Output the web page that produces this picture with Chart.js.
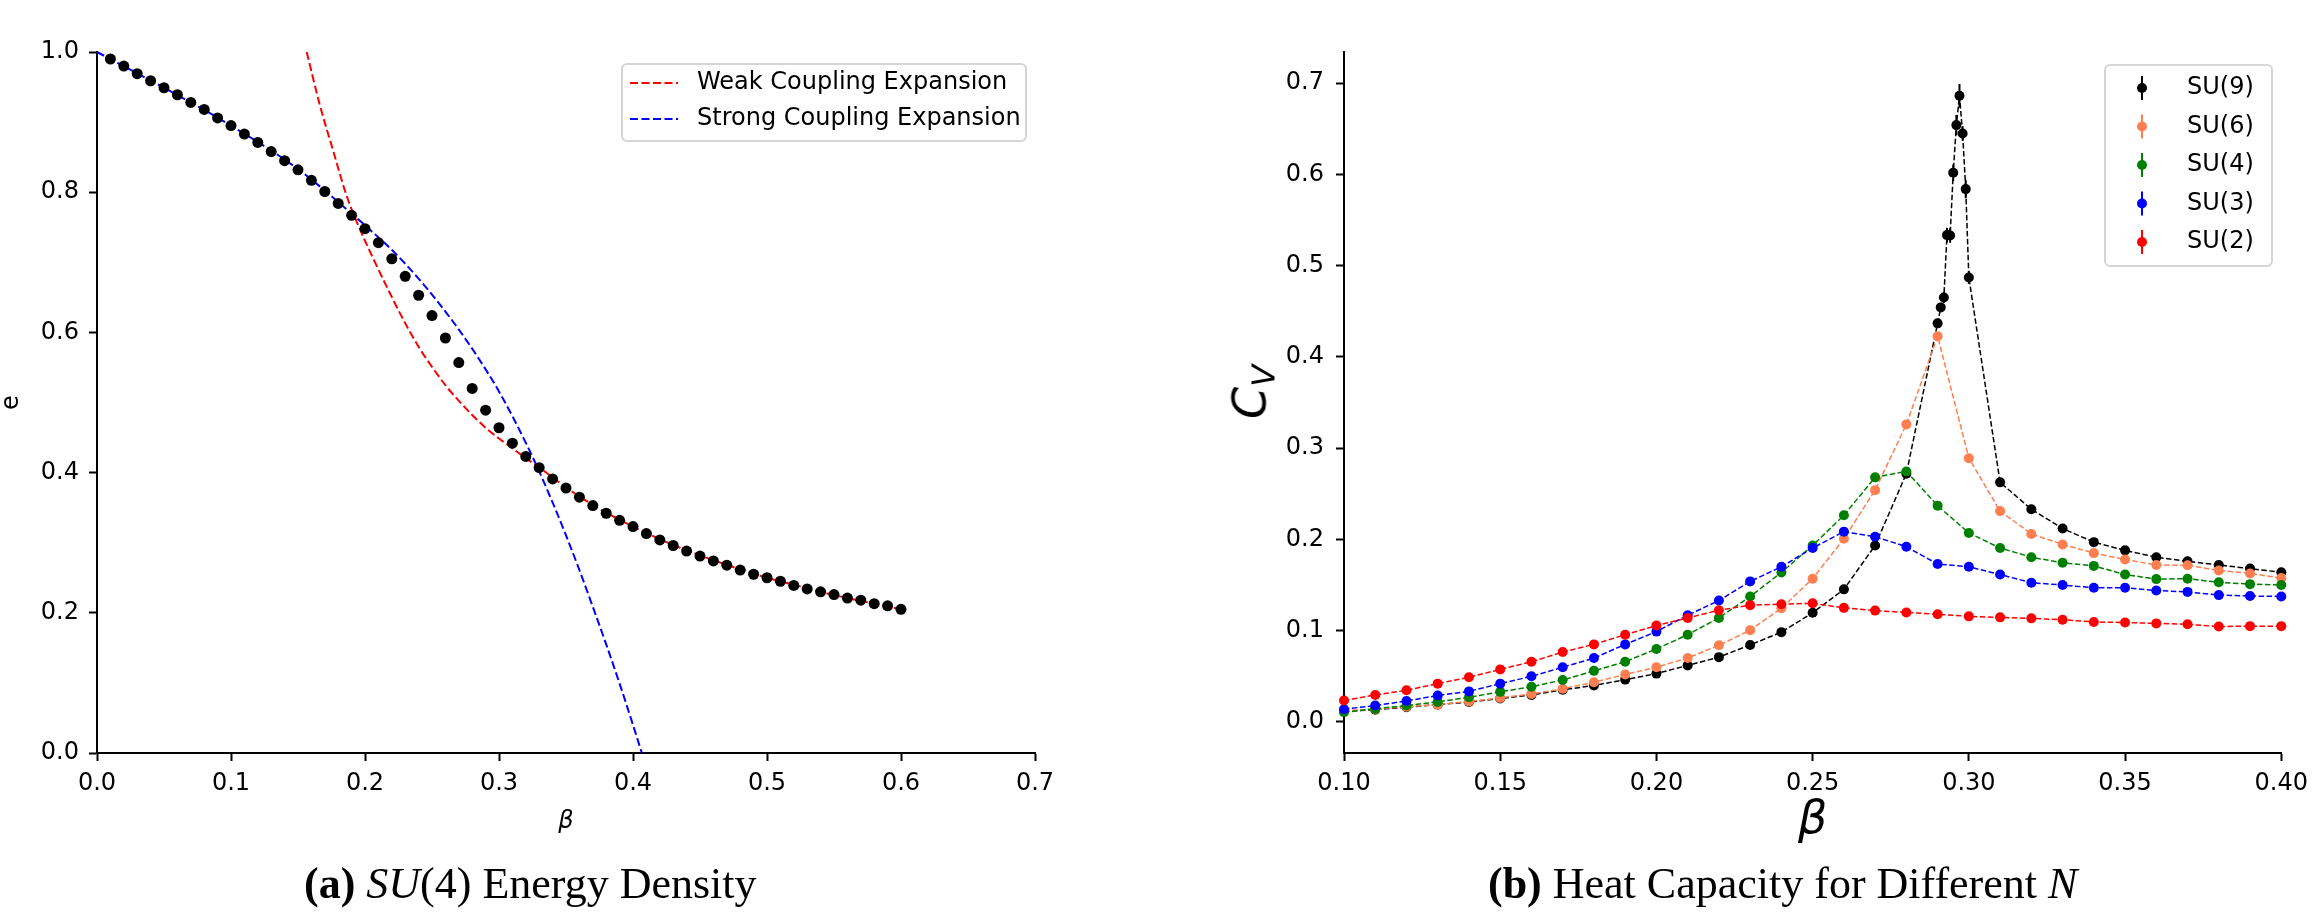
<!DOCTYPE html>
<html>
<head>
<meta charset="utf-8">
<title>SU(N) energy density and heat capacity</title>
<script src="https://cdn.jsdelivr.net/npm/chart.js@4.4.1/dist/chart.umd.min.js"></script>
<style>
    html, body { margin: 0; padding: 0; background: #fff; }
    body { width: 2316px; height: 915px; position: relative; overflow: hidden; }
    canvas { position: absolute; top: 0; }
    #energyChart { left: 0; }
    #heatChart { left: 1150px; }
    .caption {
        position: absolute;
        font-family: "Liberation Serif", "Times New Roman", serif;
        font-size: 44px;
        line-height: 44px;
        white-space: nowrap;
        color: #000;
    }
    #cvLabel {
        position: absolute;
        left: 1252px;
        top: 392px;
        transform: translate(-50%, -50%) rotate(-90deg);
        font-family: "DejaVu Sans", sans-serif;
        font-style: italic;
        font-size: 46px;
        line-height: 46px;
        white-space: nowrap;
        color: #000;
    }
    #cvLabel .sub { font-size: 32px; position: relative; top: 9px; }
</style>
</head>
<body>
<canvas id="energyChart" width="1100" height="860"></canvas>
<canvas id="heatChart" width="1166" height="860"></canvas>
<div id="cvLabel">C<span class="sub">V</span></div>
<div class="caption" style="left:304px; top:862px;"><b>(a)</b> <i>SU</i>(4) Energy Density</div>
<div class="caption" style="left:1488px; top:862px;"><b>(b)</b> Heat Capacity for Different <i>N</i></div>

<script>
// ---- (a) SU(4) energy density ----
const energyBeta = [
    0.01, 0.02, 0.03, 0.04, 0.05, 0.06, 0.07, 0.08, 0.09, 0.10,
    0.11, 0.12, 0.13, 0.14, 0.15, 0.16, 0.17, 0.18, 0.19, 0.20,
    0.21, 0.22, 0.23, 0.24, 0.25, 0.26, 0.27, 0.28, 0.29, 0.30,
    0.31, 0.32, 0.33, 0.34, 0.35, 0.36, 0.37, 0.38, 0.39, 0.40,
    0.41, 0.42, 0.43, 0.44, 0.45, 0.46, 0.47, 0.48, 0.49, 0.50,
    0.51, 0.52, 0.53, 0.54, 0.55, 0.56, 0.57, 0.58, 0.59, 0.60
];
const energyValues = [
    0.990, 0.980, 0.969, 0.959, 0.949, 0.939, 0.928, 0.918, 0.906, 0.895,
    0.883, 0.871, 0.858, 0.845, 0.832, 0.817, 0.801, 0.784, 0.767, 0.748,
    0.728, 0.705, 0.680, 0.653, 0.624, 0.592, 0.557, 0.520, 0.489, 0.464,
    0.442, 0.423, 0.407, 0.391, 0.378, 0.365, 0.353, 0.342, 0.332, 0.323,
    0.313, 0.304, 0.296, 0.288, 0.281, 0.274, 0.268, 0.261, 0.255, 0.250,
    0.245, 0.239, 0.234, 0.230, 0.226, 0.221, 0.218, 0.213, 0.210, 0.205
];

const weakBeta = [
    0.1565, 0.1662, 0.1761, 0.1861, 0.196, 0.206, 0.2209, 0.2309, 0.2408, 0.2507,
    0.2607, 0.2707, 0.2806, 0.2906, 0.3005, 0.3104, 0.3204, 0.3304, 0.34, 0.35,
    0.36, 0.38, 0.40, 0.42, 0.44, 0.46, 0.48, 0.50, 0.52, 0.54, 0.56, 0.58, 0.60
];
const weakValues = [
    1.000, 0.925, 0.860, 0.796, 0.748, 0.706, 0.647, 0.610, 0.577, 0.549,
    0.523, 0.501, 0.481, 0.463, 0.448, 0.434, 0.420, 0.407, 0.393, 0.379,
    0.366, 0.343, 0.323, 0.305, 0.289, 0.275, 0.262, 0.250, 0.240, 0.230, 0.221, 0.213, 0.205
];

const strongBeta = [
    0.00, 0.05, 0.10, 0.15, 0.18, 0.201, 0.2209, 0.2408, 0.2607, 0.2806,
    0.3005, 0.3204, 0.3304, 0.3403, 0.3503, 0.3602, 0.3701, 0.380, 0.390, 0.400, 0.4066
];
const strongValues = [
    1.000, 0.949, 0.895, 0.833, 0.786, 0.751, 0.716, 0.675, 0.628, 0.575,
    0.514, 0.441, 0.400, 0.356, 0.309, 0.260, 0.208, 0.155, 0.099, 0.040, 0.000
];

const energyXTicks = [0.0, 0.1, 0.2, 0.3, 0.4, 0.5, 0.6, 0.7];
const energyYTicks = [0.0, 0.2, 0.4, 0.6, 0.8, 1.0];

// ---- (b) heat capacity ----
const betaN = [
    0.10, 0.11, 0.12, 0.13, 0.14, 0.15, 0.16, 0.17, 0.18, 0.19, 0.20,
    0.21, 0.22, 0.23, 0.24, 0.25, 0.26, 0.27, 0.28, 0.29, 0.30,
    0.31, 0.32, 0.33, 0.34, 0.35, 0.36, 0.37, 0.38, 0.39, 0.40
];
const betaSU9 = [
    0.10, 0.11, 0.12, 0.13, 0.14, 0.15, 0.16, 0.17, 0.18, 0.19,
    0.20, 0.21, 0.22, 0.23, 0.24, 0.25, 0.26, 0.27, 0.28,
    0.290, 0.291, 0.292, 0.293, 0.294, 0.295, 0.296, 0.297, 0.298, 0.299, 0.300,
    0.31, 0.32, 0.33, 0.34, 0.35, 0.36, 0.37, 0.38, 0.39, 0.40
];
const cvSU9 = [
    0.0117, 0.0134, 0.0162, 0.0190, 0.0218, 0.0257, 0.0296, 0.0352, 0.0400, 0.0464,
    0.0530, 0.0620, 0.0710, 0.0844, 0.0984, 0.1196, 0.1453, 0.1934, 0.2720,
    0.4367, 0.4542, 0.4651, 0.5334, 0.5330, 0.6017, 0.6539, 0.6860, 0.6448, 0.5838, 0.4870,
    0.2625, 0.2330, 0.2120, 0.1970, 0.1880, 0.1805, 0.1760, 0.1720, 0.1680, 0.1640
];
const errSU9 = [
    0.001, 0.001, 0.001, 0.001, 0.001, 0.001, 0.001, 0.001, 0.001, 0.001,
    0.001, 0.001, 0.002, 0.002, 0.002, 0.002, 0.003, 0.003, 0.004,
    0.005, 0.005, 0.006, 0.008, 0.008, 0.009, 0.011, 0.013, 0.008, 0.010, 0.007,
    0.003, 0.002, 0.002, 0.002, 0.002, 0.002, 0.002, 0.002, 0.002, 0.002
];
const cvSU6 = [
    0.0123, 0.0140, 0.0168, 0.0190, 0.0224, 0.0263, 0.0307, 0.0363, 0.0436, 0.0520, 0.0600,
    0.0700, 0.0840, 0.1006, 0.1246, 0.1570, 0.2007, 0.2540, 0.3260, 0.4226, 0.2890,
    0.2310, 0.2060, 0.1945, 0.1850, 0.1780, 0.1720, 0.1716, 0.1660, 0.1627, 0.1576
];
const cvSU4 = [
    0.0106, 0.0145, 0.0180, 0.0220, 0.0270, 0.0330, 0.0386, 0.0460, 0.0560, 0.0660, 0.0800,
    0.0956, 0.1140, 0.1375, 0.1638, 0.1934, 0.2264, 0.2680, 0.2745, 0.2370, 0.2070,
    0.1906, 0.1805, 0.1744, 0.1710, 0.1615, 0.1565, 0.1570, 0.1530, 0.1510, 0.1500
];
const cvSU3 = [
    0.0140, 0.0180, 0.0230, 0.0290, 0.0335, 0.0420, 0.0500, 0.0600, 0.0700, 0.0850, 0.0990,
    0.1170, 0.1330, 0.1540, 0.1700, 0.1906, 0.2085, 0.2030, 0.1920, 0.1730, 0.1700,
    0.1615, 0.1526, 0.1500, 0.1470, 0.1470, 0.1440, 0.1425, 0.1390, 0.1380, 0.1375
];
const cvSU2 = [
    0.0235, 0.0296, 0.0347, 0.0420, 0.0490, 0.0576, 0.0660, 0.0766, 0.0850, 0.0956, 0.1056,
    0.1140, 0.1224, 0.1280, 0.1290, 0.1300, 0.1250, 0.1220, 0.1200, 0.1180, 0.1157,
    0.1146, 0.1135, 0.1120, 0.1096, 0.1090, 0.1080, 0.1070, 0.1045, 0.1050, 0.1050
];

const heatXTicks = [0.10, 0.15, 0.20, 0.25, 0.30, 0.35, 0.40];
const heatYTicks = [0.0, 0.1, 0.2, 0.3, 0.4, 0.5, 0.6, 0.7];

Chart.defaults.font.family = "'DejaVu Sans', sans-serif";
Chart.defaults.font.size = 24;
Chart.defaults.color = '#000';

function toPoints(xs, ys) {
    return xs.map((x, i) => ({ x: x, y: ys[i] }));
}

// vertical error bars drawn just under each dataset's own markers
const errorBars = {
    id: 'errorBars',
    beforeDatasetDraw(chart, args) {
        const ds = chart.data.datasets[args.index];
        if (!ds.errors) return;
        const { ctx, scales: { x, y } } = chart;
        ctx.save();
        ctx.strokeStyle = ds.borderColor;
        ctx.lineWidth = 2;
        ds.data.forEach((p, j) => {
            const e = ds.errors[j];
            if (!e) return;
            const px = x.getPixelForValue(p.x);
            ctx.beginPath();
            ctx.moveTo(px, y.getPixelForValue(p.y - e));
            ctx.lineTo(px, y.getPixelForValue(p.y + e));
            ctx.stroke();
        });
        ctx.restore();
    }
};

// matplotlib-like framed legend
const frameLegend = {
    id: 'frameLegend',
    afterDraw(chart, args, opts) {
        const ctx = chart.ctx;
        const items = chart.data.datasets.filter(ds => ds.inLegend);
        ctx.save();
        ctx.beginPath();
        ctx.roundRect(opts.left, opts.top, opts.width, opts.height, 5);
        ctx.fillStyle = 'rgba(255,255,255,0.8)';
        ctx.fill();
        ctx.strokeStyle = '#d5d5d5';
        ctx.lineWidth = 2;
        ctx.stroke();
        items.forEach((ds, i) => {
            const y = opts.rowStart + i * opts.rowGap;
            const color = ds.borderColor;
            if (opts.kind === 'line') {
                ctx.strokeStyle = color;
                ctx.lineWidth = ds.borderWidth;
                ctx.setLineDash(ds.borderDash);
                ctx.beginPath();
                ctx.moveTo(opts.sampleX, y);
                ctx.lineTo(opts.sampleX + 48, y);
                ctx.stroke();
                ctx.setLineDash([]);
            } else {
                ctx.strokeStyle = color;
                ctx.lineWidth = 2;
                ctx.beginPath();
                ctx.moveTo(opts.sampleX, y - 12);
                ctx.lineTo(opts.sampleX, y + 12);
                ctx.stroke();
                ctx.fillStyle = color;
                ctx.beginPath();
                ctx.arc(opts.sampleX, y, 5, 0, Math.PI * 2);
                ctx.fill();
            }
            ctx.fillStyle = '#000';
            ctx.font = "24px 'DejaVu Sans'";
            ctx.textBaseline = 'middle';
            ctx.textAlign = 'left';
            ctx.fillText(ds.label, opts.textX, y);
        });
        ctx.restore();
    }
};

function axisStyle(extra) {
    return Object.assign({
        type: 'linear',
        grid: { drawOnChartArea: false, drawTicks: true, tickLength: 8, tickWidth: 2, tickColor: '#000' },
        border: { display: true, color: '#000', width: 2 }
    }, extra);
}

// Energy density chart
new Chart(document.getElementById('energyChart'), {
    type: 'scatter',
    data: {
        datasets: [
            {
                label: 'SU(4) data',
                data: toPoints(energyBeta, energyValues),
                showLine: false,
                pointRadius: 5.5,
                pointBorderWidth: 0,
                pointBackgroundColor: '#000',
                borderColor: '#000',
                clip: false,
                order: 0
            },
            {
                label: 'Weak Coupling Expansion',
                data: toPoints(weakBeta, weakValues),
                showLine: true,
                pointRadius: 0,
                borderColor: '#ff0000',
                borderWidth: 2,
                borderDash: [8, 3.5],
                cubicInterpolationMode: 'monotone',
                clip: false,
                inLegend: true,
                order: 1
            },
            {
                label: 'Strong Coupling Expansion',
                data: toPoints(strongBeta, strongValues),
                showLine: true,
                pointRadius: 0,
                borderColor: '#0000ff',
                borderWidth: 2,
                borderDash: [8, 3.5],
                cubicInterpolationMode: 'monotone',
                clip: false,
                inLegend: true,
                order: 2
            }
        ]
    },
    options: {
        responsive: false,
        animation: false,
        devicePixelRatio: 1,
        layout: { padding: { top: 52, right: 65, bottom: 0, left: 0 } },
        scales: {
            x: axisStyle({
                min: 0, max: 0.7,
                afterBuildTicks: s => { s.ticks = energyXTicks.map(v => ({ value: v })); },
                afterFit: s => { s.height = 107; },
                ticks: { padding: 8, maxRotation: 0, autoSkip: false, callback: v => v.toFixed(1) },
                title: { display: true, text: 'β', font: { size: 24, style: 'italic', lineHeight: 1 }, padding: { top: 0, bottom: 26 } }
            }),
            y: axisStyle({
                min: 0, max: 1,
                afterBuildTicks: s => { s.ticks = energyYTicks.map(v => ({ value: v })); },
                afterFit: s => { s.width = 97; },
                ticks: { padding: 10, autoSkip: false, callback: v => v.toFixed(1) },
                title: { display: true, text: 'e', font: { size: 24, lineHeight: 1 }, padding: { top: 0, bottom: 0 } }
            })
        },
        plugins: {
            legend: { display: false },
            tooltip: { enabled: false },
            frameLegend: {
                kind: 'line',
                left: 622, top: 64, width: 404, height: 77,
                rowStart: 83, rowGap: 36, sampleX: 630, textX: 697
            }
        }
    },
    plugins: [frameLegend]
});

// Heat capacity chart
function seriesStyle(color) {
    return {
        showLine: true,
        pointRadius: 5,
        pointBorderWidth: 0,
        pointBackgroundColor: color,
        borderColor: color,
        borderWidth: 1.5,
        borderDash: [5.5, 2.5],
        clip: false,
        inLegend: true
    };
}

new Chart(document.getElementById('heatChart'), {
    type: 'scatter',
    data: {
        datasets: [
            Object.assign({ label: 'SU(9)', data: toPoints(betaSU9, cvSU9), errors: errSU9, order: 5 }, seriesStyle('#000000')),
            Object.assign({ label: 'SU(6)', data: toPoints(betaN, cvSU6), order: 4 }, seriesStyle('#ff7f50')),
            Object.assign({ label: 'SU(4)', data: toPoints(betaN, cvSU4), order: 3 }, seriesStyle('#008000')),
            Object.assign({ label: 'SU(3)', data: toPoints(betaN, cvSU3), order: 2 }, seriesStyle('#0000ff')),
            Object.assign({ label: 'SU(2)', data: toPoints(betaN, cvSU2), order: 1 }, seriesStyle('#ff0000'))
        ]
    },
    options: {
        responsive: false,
        animation: false,
        devicePixelRatio: 1,
        layout: { padding: { top: 52, right: 31, bottom: 0, left: 0 } },
        scales: {
            x: axisStyle({
                min: 0.10, max: 0.40,
                afterBuildTicks: s => { s.ticks = heatXTicks.map(v => ({ value: v })); },
                afterFit: s => { s.height = 107; },
                ticks: { padding: 8, maxRotation: 0, autoSkip: false, callback: v => v.toFixed(2) },
                title: { display: true, text: 'β', font: { size: 46, style: 'italic', lineHeight: 1 }, padding: { top: 0, bottom: 16 } }
            }),
            y: axisStyle({
                min: -0.034, max: 0.734,
                afterBuildTicks: s => { s.ticks = heatYTicks.map(v => ({ value: v })); },
                afterFit: s => { s.width = 194; },
                ticks: { padding: 12, autoSkip: false, callback: v => v.toFixed(1) }
            })
        },
        plugins: {
            legend: { display: false },
            tooltip: { enabled: false },
            frameLegend: {
                kind: 'errorbar',
                left: 955, top: 65, width: 167, height: 201,
                rowStart: 88, rowGap: 38.5, sampleX: 992, textX: 1037
            }
        }
    },
    plugins: [errorBars, frameLegend]
});
</script>
</body>
</html>
